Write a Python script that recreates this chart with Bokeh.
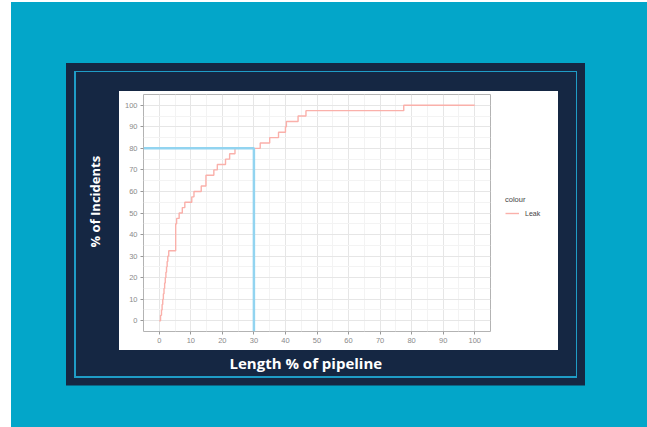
from bokeh.plotting import figure
from bokeh.models import (Range1d, Legend, LegendItem, Title,
                          FixedTicker, ColumnDataSource)
from bokeh.embed import file_html
from bokeh.resources import INLINE

# ---- data ----
length_pct = [0, 0.4, 0.7, 0.9, 1.1, 1.3, 1.5, 1.7, 1.9, 2.1, 2.3, 2.5, 2.7, 3.0,
              5.2, 5.5, 6.3, 7.3, 8.1, 10.3, 11.0, 13.3, 14.8, 17.3, 18.4,
              21.0, 22.3, 24.0, 32.0, 35.0, 37.8, 40.0, 40.3, 44.0, 46.5, 77.5, 100]
incidents_pct = [0, 2.5, 5, 7.5, 10, 12.5, 15, 17.5, 20, 22.5, 25, 27.5, 30, 32.5,
                 45, 47.5, 50, 52.5, 55, 57.5, 60, 62.5, 67.5, 70, 72.5,
                 75, 77.5, 80, 82.5, 85, 87.5, 90, 92.5, 95, 97.5, 100, 100]
ref_length = 30
ref_incidents = 80
x_ticks = list(range(0, 101, 10))
y_ticks = list(range(0, 101, 10))
series_name = "Leak"
legend_title = "colour"
x_title = "Length % of pipeline"
y_title = "% of Incidents"

# ---- styling ----
TEAL = "#03a6c9"
NAVY = "#152743"
EDGE = "#1f9cc6"
PINK = "#fab0aa"
BLUE = "#92d4f0"

def layer(c, x, y, w, h):
    return f"linear-gradient({c},{c}) {x}px {y}px / {w}px {h}px no-repeat"

background = ", ".join([
    layer("#ffffff", 119, 91, 439, 259),
    layer(NAVY, 75.5, 72, 500, 304),
    layer(EDGE, 74, 70.5, 503, 307),
    layer(NAVY, 66, 62.5, 519, 322.5),
    layer(TEAL, 11, 2, 636, 425),
])

p = figure(frame_width=347, frame_height=237,
           output_backend="svg", toolbar_location=None,
           x_range=Range1d(-5, 105), y_range=Range1d(-5, 105),
           min_border_left=143, min_border_right=157,
           min_border_top=94, min_border_bottom=96,
           border_fill_color=None, background_fill_color="white",
           outline_line_color="#b3b3b3", outline_line_width=1,
           styles={"background": background})

minor = [(a + b) / 2 for a, b in zip(x_ticks[:-1], x_ticks[1:])]
minor_y = [(a + b) / 2 for a, b in zip(y_ticks[:-1], y_ticks[1:])]
p.xaxis.ticker = FixedTicker(ticks=x_ticks, minor_ticks=minor)
p.yaxis.ticker = FixedTicker(ticks=y_ticks, minor_ticks=minor_y)
p.xgrid.ticker = FixedTicker(ticks=x_ticks, minor_ticks=minor)
p.ygrid.ticker = FixedTicker(ticks=y_ticks, minor_ticks=minor_y)
for g in (p.xgrid, p.ygrid):
    g.grid_line_color = "#e6e6e6"
    g.grid_line_width = 1
    g.minor_grid_line_color = "#f3f3f3"
    g.minor_grid_line_width = 1

for ax in (p.xaxis, p.yaxis):
    ax.axis_line_color = None
    ax.major_tick_out = 3
    ax.major_tick_in = 0
    ax.major_tick_line_color = "#999999"
    ax.minor_tick_line_color = None
    ax.major_label_text_font = "Liberation Sans"
    ax.major_label_text_font_size = "7.5px"
    ax.major_label_text_color = "#8a8a8a"
    ax.major_label_standoff = 2

src = ColumnDataSource(dict(x=length_pct, y=incidents_pct))
r = p.step("x", "y", source=src, mode="after", line_color=PINK, line_width=1.4)

# reference lines at 30 % length / 80 % incidents
p.line([p.x_range.start, ref_length, ref_length],
       [ref_incidents, ref_incidents, p.y_range.start],
       line_color=BLUE, line_width=2.5)

legend = Legend(items=[LegendItem(label=series_name, renderers=[r])],
                title=legend_title, location=(15, 113),
                background_fill_alpha=0, border_line_color=None,
                padding=0, margin=0, spacing=0,
                title_text_font="Liberation Sans", title_text_font_size="7.5px",
                title_text_font_style="normal",
                title_text_color="#444444", title_standoff=4,
                label_text_font="Liberation Sans", label_text_font_size="7px",
                label_text_color="#444444",
                glyph_width=14, glyph_height=10, label_height=10, label_standoff=6)
p.add_layout(legend, "right")

p.add_layout(Title(text=x_title, align="left", offset=86, standoff=10,
                   text_font="Open Sans", text_font_style="bold",
                   text_font_size="15px", text_color="white"), "below")
p.add_layout(Title(text=y_title, align="left", offset=84, standoff=36,
                   text_font="Open Sans", text_font_style="bold",
                   text_font_size="13px", text_color="white"), "left")

open("out.html", "w").write(file_html(p, INLINE))
